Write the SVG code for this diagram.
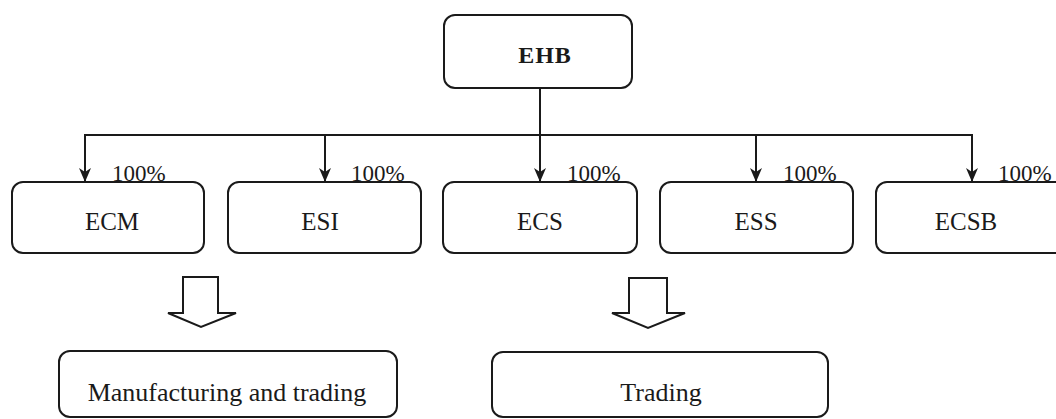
<svg xmlns="http://www.w3.org/2000/svg" width="1056" height="419" viewBox="0 0 1056 419">
<style>
.box{fill:#fff;stroke:#1a1a1a;stroke-width:2}
.t{font-family:"Liberation Serif","Times New Roman",serif;fill:#1a1a1a;text-anchor:middle}
.n{font-size:25px}
.b{font-size:26px}
.p{font-size:23px;text-anchor:start}
.c{fill:none;stroke:#1a1a1a;stroke-width:2}
.blk{fill:#fff;stroke:#1a1a1a;stroke-width:2;stroke-linejoin:miter}
</style>
<defs>
<marker id="ah" markerUnits="userSpaceOnUse" markerWidth="14" markerHeight="12" refX="14" refY="6" orient="auto" viewBox="0 0 14 12">
<path d="M0,0 L14,6 L0,12 L4,6 Z" fill="#1a1a1a"/>
</marker>
</defs>
<g id="connectors">
<line class="c" x1="540" y1="88" x2="540" y2="135"/>
<line class="c" x1="84" y1="135" x2="973" y2="135"/>
<line class="c" x1="85" y1="135" x2="85" y2="182" marker-end="url(#ah)"/>
<line class="c" x1="325" y1="135" x2="325" y2="182" marker-end="url(#ah)"/>
<line class="c" x1="540" y1="135" x2="540" y2="182" marker-end="url(#ah)"/>
<line class="c" x1="756" y1="135" x2="756" y2="182" marker-end="url(#ah)"/>
<line class="c" x1="972" y1="135" x2="972" y2="182" marker-end="url(#ah)"/>
<path class="blk" d="M183,277 H218 V313 H236 L201,327 L168,313 H183 Z"/>
<path class="blk" d="M629,278 H667 V313 H685 L648,328 L612,313 H629 Z"/>
</g>
<g id="node-EHB">
<rect class="box" x="444" y="15" width="188" height="73" rx="11"/>
<text class="t" x="545" y="63" style="font-size:24px;font-weight:bold;letter-spacing:1px">EHB</text>
</g>
<g id="node-ECM">
<rect class="box" x="12" y="182" width="192" height="71" rx="11"/>
<text class="t n" x="112" y="230">ECM</text>
<text class="t p" x="112" y="181">100%</text>
</g>
<g id="node-ESI">
<rect class="box" x="228" y="182" width="193" height="71" rx="11"/>
<text class="t n" x="320" y="230">ESI</text>
<text class="t p" x="351" y="181">100%</text>
</g>
<g id="node-ECS">
<rect class="box" x="443" y="182" width="194" height="71" rx="11"/>
<text class="t n" x="540" y="230">ECS</text>
<text class="t p" x="567" y="181">100%</text>
</g>
<g id="node-ESS">
<rect class="box" x="660" y="182" width="193" height="71" rx="11"/>
<text class="t n" x="756" y="230">ESS</text>
<text class="t p" x="783" y="181">100%</text>
</g>
<g id="node-ECSB">
<rect class="box" x="876" y="182" width="192" height="71" rx="11"/>
<text class="t n" x="966" y="230">ECSB</text>
<text class="t p" x="998" y="181">100%</text>
</g>
<g id="node-manufacturing">
<rect class="box" x="59" y="351" width="338" height="66" rx="11"/>
<text class="t b" x="227" y="401">Manufacturing and trading</text>
</g>
<g id="node-trading">
<rect class="box" x="492" y="352" width="336" height="65" rx="11"/>
<text class="t b" x="661" y="401">Trading</text>
</g>
</svg>
